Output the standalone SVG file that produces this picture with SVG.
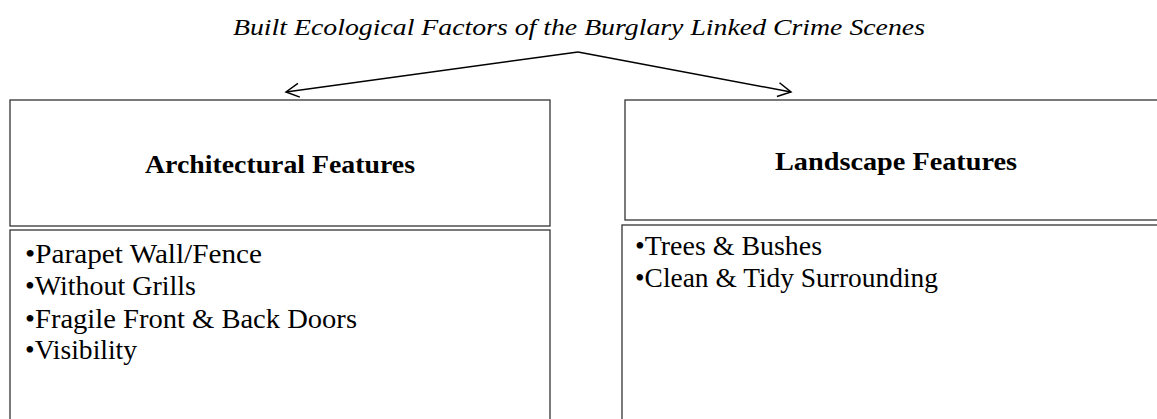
<svg xmlns="http://www.w3.org/2000/svg" width="1157" height="419" viewBox="0 0 1157 419">
<style>
.box{fill:#fff;stroke:#333;stroke-width:1.3}
.ttl{font-family:"Liberation Serif",serif;font-style:italic;font-size:24px;fill:#000}
.hd{font-family:"Liberation Serif",serif;font-weight:bold;font-size:25px;fill:#000;text-anchor:middle}
.li{font-family:"Liberation Serif",serif;font-size:27px;fill:#000}
.con{fill:none;stroke:#000;stroke-width:1.5}
</style>
<defs>
<marker id="ah" markerWidth="16" markerHeight="16" refX="14" refY="8" orient="auto" markerUnits="userSpaceOnUse">
<path d="M1,1 L14,8 L1,15" fill="none" stroke="#000" stroke-width="1.5"/>
</marker>
</defs>
<rect width="1157" height="419" fill="#fff"/>
<g id="title">
<text class="ttl" x="233" y="35" textLength="692" lengthAdjust="spacingAndGlyphs">Built Ecological Factors of the Burglary Linked Crime Scenes</text>
</g>
<g id="connectors">
<line class="con" x1="578" y1="52" x2="286" y2="92" marker-end="url(#ah)"/>
<line class="con" x1="578" y1="52" x2="791" y2="92" marker-end="url(#ah)"/>
</g>
<g id="arch-head">
<rect class="box" x="10" y="100" width="540" height="126"/>
<text class="hd" x="280" y="173" textLength="270" lengthAdjust="spacingAndGlyphs">Architectural Features</text>
</g>
<g id="arch-list">
<rect class="box" x="10" y="230" width="540" height="200"/>
<text class="li" x="25" y="263" textLength="237" lengthAdjust="spacingAndGlyphs">•Parapet Wall/Fence</text>
<text class="li" x="25" y="295" textLength="171" lengthAdjust="spacingAndGlyphs">•Without Grills</text>
<text class="li" x="25" y="328" textLength="332" lengthAdjust="spacingAndGlyphs">•Fragile Front &amp; Back Doors</text>
<text class="li" x="25" y="359" textLength="112" lengthAdjust="spacingAndGlyphs">•Visibility</text>
</g>
<g id="land-head">
<rect class="box" x="625" y="100" width="545" height="120"/>
<text class="hd" x="896" y="170" textLength="242" lengthAdjust="spacingAndGlyphs">Landscape Features</text>
</g>
<g id="land-list">
<rect class="box" x="622" y="225" width="548" height="200"/>
<text class="li" x="635" y="255" textLength="187" lengthAdjust="spacingAndGlyphs">•Trees &amp; Bushes</text>
<text class="li" x="635" y="287" textLength="303" lengthAdjust="spacingAndGlyphs">•Clean &amp; Tidy Surrounding</text>
</g>
</svg>
